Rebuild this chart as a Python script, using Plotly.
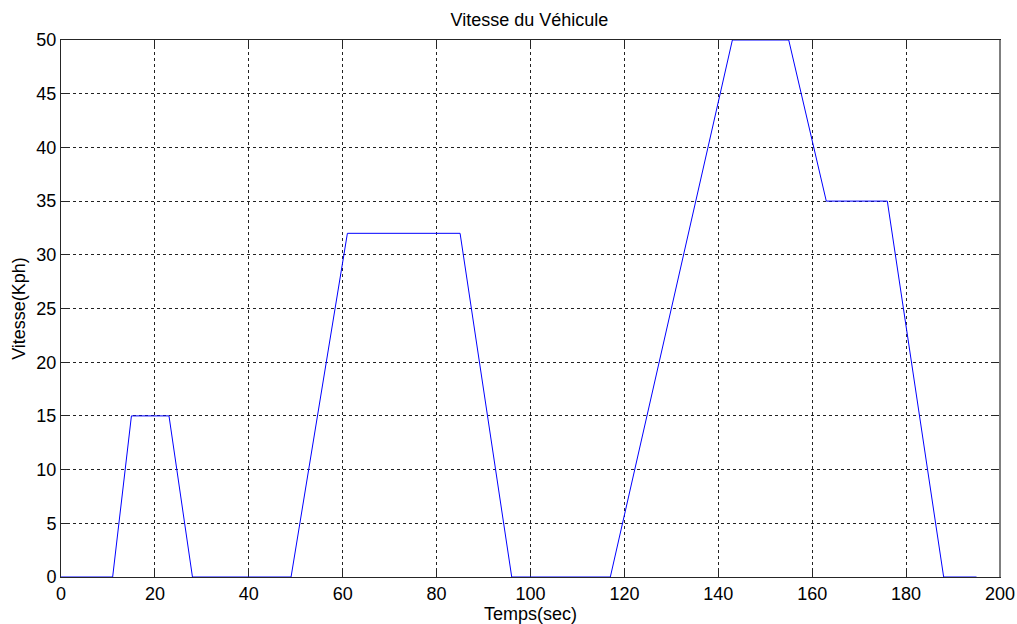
import plotly.graph_objects as go

# ECE-15 urban driving cycle: breakpoints (s) and speed (km/h)
temps = [0, 11, 15, 23, 28, 49, 61, 85, 96, 117, 143, 155, 163, 176, 188, 195]
vitesse = [0, 0, 15, 15, 0, 0, 32, 32, 0, 0, 50, 50, 35, 35, 0, 0]

x_ticks = list(range(0, 201, 20))
y_ticks = list(range(0, 51, 5))

fig = go.Figure()
fig.add_trace(go.Scatter(
    x=temps, y=vitesse, mode="lines",
    line=dict(color="rgb(0,0,255)", width=1),
    cliponaxis=False, showlegend=False,
))

FAMILY = "Liberation Sans, Arial, sans-serif"
font = dict(family=FAMILY, size=18, color="black")
axis_common = dict(
    showline=True, linecolor="#262626", linewidth=1, mirror="allticks",
    ticks="inside", ticklen=9, tickcolor="#262626",
    showgrid=True, gridcolor="#222222", gridwidth=1, griddash="3px,3px",
    zeroline=False, tickfont=font, layer="below traces", automargin=False,
)

fig.update_layout(
    width=1017, height=624,
    margin=dict(l=61, r=17, t=40, b=47),
    paper_bgcolor="white", plot_bgcolor="white",
    title=dict(text="Vitesse du Véhicule", x=0.5205, xanchor="center",
               y=1 - 20 / 624, yanchor="middle",
               font=dict(family=FAMILY, size=18, color="black")),
    xaxis=dict(range=[0, 200], tickvals=x_ticks, ticktext=[str(v) for v in x_ticks],
               title=dict(text="Temps(sec)", font=font, standoff=1), **axis_common),
    yaxis=dict(range=[0, 50], tickvals=y_ticks, ticktext=[str(v) for v in y_ticks],
               title=dict(text="Vitesse(Kph)", font=font, standoff=6), **axis_common),
)

# right frame edge drawn in a lighter, heavier grey
fig.add_shape(type="line", xref="paper", yref="paper", x0=1, x1=1, y0=0, y1=1,
              line=dict(color="#7f7f7f", width=2), layer="above")

fig.write_html("out.html")
